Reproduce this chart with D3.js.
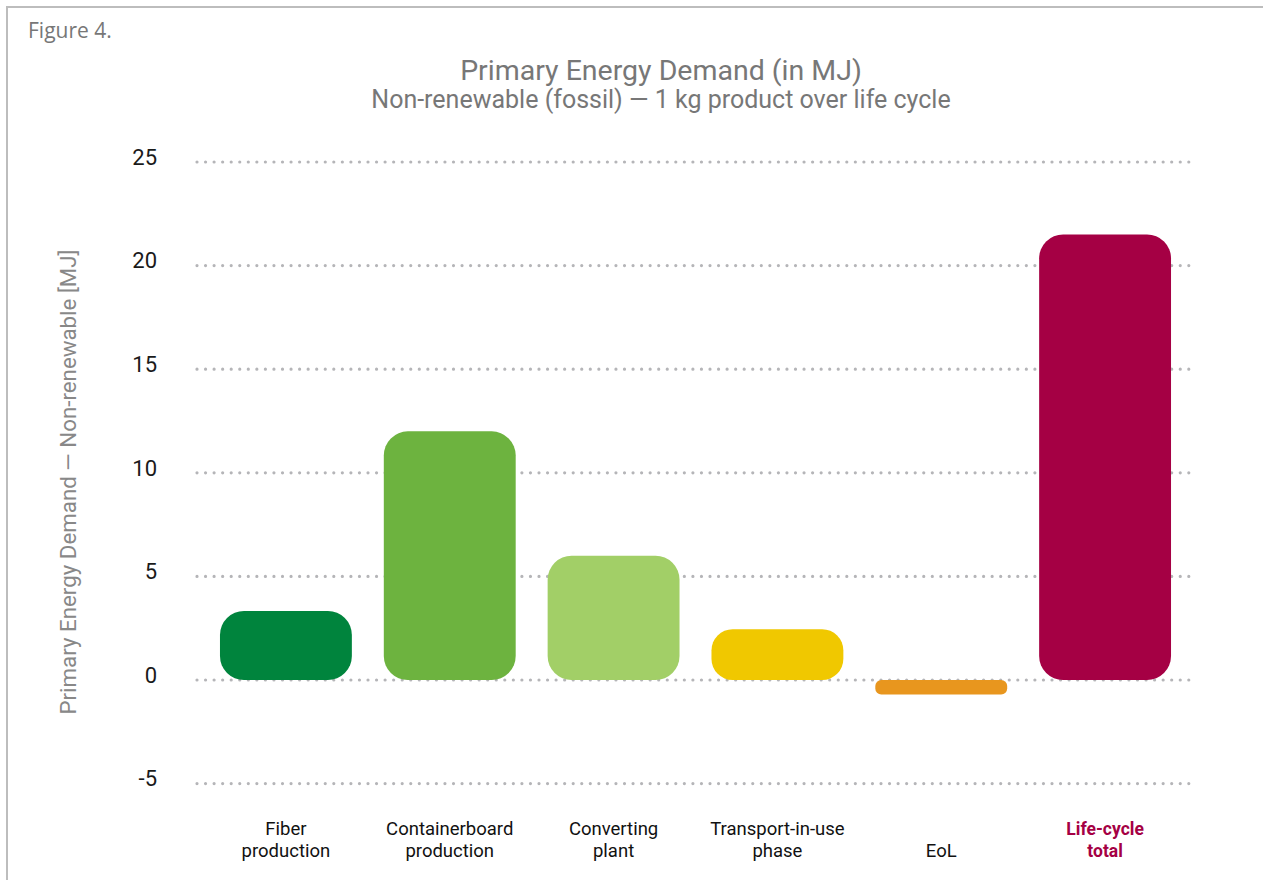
<!DOCTYPE html>
<html><head><meta charset="utf-8">
<script src="https://cdn.jsdelivr.net/npm/d3@7"></script>
<style>html,body{margin:0;padding:0;background:#fff;}</style>
</head><body>
<svg id="chart" width="1263" height="880"></svg>
<script>
const categories = ["Fiber production","Containerboard production","Converting plant","Transport-in-use phase","EoL","Life-cycle total"];
const labelLines = [["Fiber","production"],["Containerboard","production"],["Converting","plant"],["Transport-in-use","phase"],["EoL"],["Life-cycle","total"]];
const values = [3.33, 12.0, 6.0, 2.45, -0.7, 21.5];
const colors = ["#00843d","#6db33f","#a2cf67","#f0c800","#e8961e","#a50044"];
const yTicks = [-5, 0, 5, 10, 15, 20, 25];

const svg = d3.select("#chart");
const font = "Roboto, 'Liberation Sans', sans-serif";

// frame
svg.append("path").attr("d","M7,880 V7 H1263").attr("fill","none").attr("stroke","#bdbdbd").attr("stroke-width",2);

svg.append("text").attr("x",28).attr("y",38).text("Figure 4.")
  .attr("font-family","'Open Sans', sans-serif").attr("font-size",21).attr("fill","#777");
svg.append("text").attr("x",661).attr("y",80).attr("text-anchor","middle").text("Primary Energy Demand (in MJ)")
  .attr("font-family",font).attr("font-size",28.5).attr("fill","#777");
svg.append("text").attr("x",661).attr("y",108).attr("text-anchor","middle").text("Non-renewable (fossil) \u2014 1 kg product over life cycle")
  .attr("font-family",font).attr("font-size",25).attr("fill","#777");

const y = d3.scaleLinear().domain([-5,25]).range([783.6,162]);
const x = d3.scaleBand().domain(categories).range([204,1187]).paddingInner(0.195).paddingOuter(0.0975);

// grid (dotted)
const gridG = svg.append("g");
gridG.selectAll("line").data(yTicks).join("line")
  .attr("x1",197).attr("x2",1196).attr("y1",d=>y(d)).attr("y2",d=>y(d))
  .attr("stroke","#b5b5b8").attr("stroke-width",3.2).attr("stroke-linecap","round")
  .attr("stroke-dasharray","0 8.55");

// y tick labels via axis
const yAxis = svg.append("g").attr("transform","translate(157,0)")
  .call(d3.axisLeft(y).tickValues(yTicks).tickSize(0).tickPadding(0).tickFormat(d=>String(d)));
yAxis.select(".domain").remove();
yAxis.selectAll("text").attr("font-family",font).attr("font-size",22).attr("fill","#1a1a1a").attr("dy","0.1em");

svg.append("text").attr("transform","translate(76,482) rotate(-90)").attr("text-anchor","middle")
  .text("Primary Energy Demand \u2014 Non-renewable [MJ]")
  .attr("font-family",font).attr("font-size",22.3).attr("fill","#888");

// bars
svg.append("g").selectAll("rect").data(values).join("rect")
  .attr("x",(d,i)=>x(categories[i]))
  .attr("width",x.bandwidth())
  .attr("y",d=>Math.min(y(d),y(0)))
  .attr("height",d=>Math.abs(y(d)-y(0)))
  .attr("rx",d=>Math.min(24,Math.abs(y(d)-y(0))/2.4))
  .attr("fill",(d,i)=>colors[i]);

// x labels
const lg = svg.append("g");
labelLines.forEach((lines,i)=>{
  const cx = x(categories[i]) + x.bandwidth()/2;
  const last = i===categories.length-1;
  const t = lg.append("text").attr("text-anchor","middle")
    .attr("font-family",font).attr("font-size",last?17.5:18.5)
    .attr("font-weight", last?"bold":"normal")
    .attr("fill", last?"#a50044":"#111");
  lines.forEach((ln,j)=>{
    const yy = 857 - (lines.length-1-j)*22.5;
    t.append("tspan").attr("x",cx).attr("y",yy).text(ln);
  });
});
</script>
</body></html>
